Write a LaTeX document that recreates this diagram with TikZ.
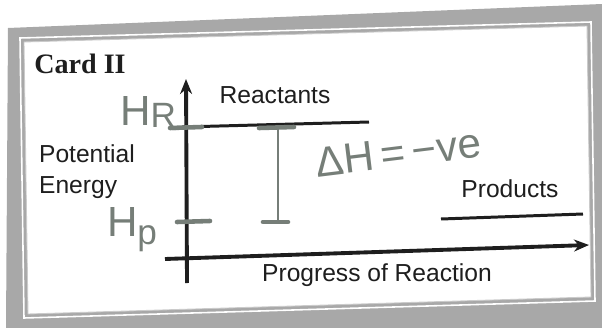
\documentclass[tikz,border=0pt]{standalone}
\usepackage{fontspec}
\setmainfont{Liberation Sans}
\newfontfamily\cardfont{Liberation Serif}
\usetikzlibrary{positioning,arrows.meta}
\definecolor{CardGrey}{RGB}{168,168,168}
\definecolor{InkBlack}{RGB}{30,30,30}
\definecolor{PencilGrey}{RGB}{118,126,120}
\tikzset{
  axisline/.style={-{Stealth[length=3mm,width=2.4mm]},line width=2.2pt,draw=InkBlack},
  levelline/.style={line width=1.7pt,draw=InkBlack},
  axislabel/.style={font=\fontsize{14}{17.5}\selectfont,text=InkBlack,inner sep=0pt},
  scrawl/.style={line width=2.6pt,draw=PencilGrey,line cap=round},
  thinscrawl/.style={line width=1.4pt,draw=PencilGrey,line cap=round},
  scrawltext/.style={font=\fontsize{24}{26}\selectfont,text=PencilGrey,inner sep=0pt}
}
\begin{document}
\begin{tikzpicture}[x=0.02cm,y=-0.02cm]
  \useasboundingbox (0,0) rectangle (602,328);
  % the card and its frame
  \fill[CardGrey] (8,28) -- (602,4) -- (602,328) -- (6,328) -- cycle;
  \draw[white,line width=0.9pt] (20,38) -- (591,22) -- (595,301) -- (24,318) -- cycle;
  \fill[white] (24,42) -- (587,26) -- (591,297) -- (28,314) -- cycle;
  \draw[CardGrey!60,line width=0.5pt] (24,42) -- (587,26) -- (591,297) -- (28,314) -- cycle;
  \node[font=\cardfont\bfseries\fontsize{16}{18}\selectfont,text=InkBlack] (title) at (80,64) {Card II};
  % axes
  \coordinate (ybot) at (187,283);
  \coordinate (ytop) at (186,79);
  \coordinate (xleft) at (165,259);
  \coordinate (xright) at (589,245);
  \draw[axisline] (ybot) -- (ytop);
  \draw[axisline] (xleft) -- (xright);
  % enthalpy levels
  \coordinate (rleft) at (182,127);
  \coordinate (rright) at (369,122);
  \coordinate (pleft) at (441,219);
  \coordinate (pright) at (583,214);
  \draw[levelline] (rleft) -- (rright);
  \draw[levelline] (pleft) -- (pright);
  \node[axislabel] (reactants) at (275,95) {Reactants};
  \node[axislabel] (products) at (510,189) {Products};
  \node[axislabel,align=left] (energy) at (87,172) {Potential\\Energy};
  \node[axislabel] (progress) at (377,275) {Progress of Reaction};
  % pencil notes
  \coordinate (hrtickl) at (170,128);
  \coordinate (hrtickr) at (202,127);
  \coordinate (hptickl) at (177,222);
  \coordinate (hptickr) at (210,221);
  \draw[scrawl] (hrtickl) -- (hrtickr);
  \draw[scrawl] (hptickl) -- (hptickr);
  \node[scrawltext] (hr) at (148,112) {H\raisebox{-0.1ex}{\fontsize{20}{22}\selectfont R}};
  \node[scrawltext] (hp) at (132,230) {H\raisebox{-0.35ex}{\fontsize{20}{22}\selectfont p}};
  \draw[thinscrawl] (hr.south east) to[out=-70,in=180] (hrtickl);
  \coordinate (dtop) at (278,128);
  \coordinate (dbot) at (278,222);
  \coordinate (dtopl) at (259,128);
  \coordinate (dtopr) at (294,127);
  \coordinate (dbotl) at (263,222);
  \coordinate (dbotr) at (288,222);
  \draw[thinscrawl] (dtop) -- (dbot);
  \draw[scrawl] (dtopl) -- (dtopr);
  \draw[scrawl] (dbotl) -- (dbotr);
  \node[scrawltext,rotate=7] (dh) at (398,153) {ΔH\,=\,−ve};
\end{tikzpicture}
\end{document}
